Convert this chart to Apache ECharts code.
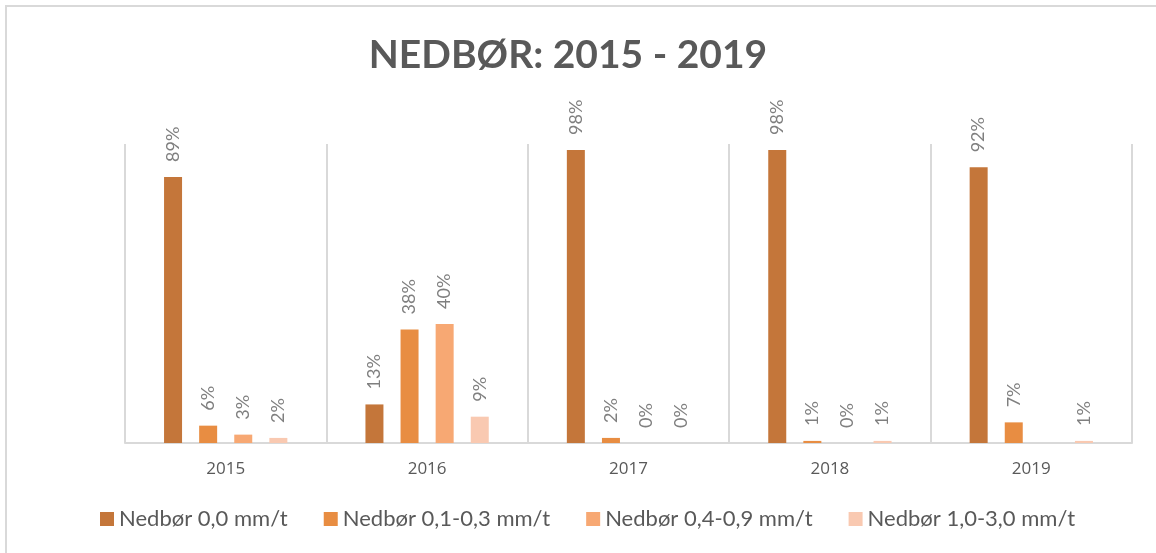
<!DOCTYPE html>
<html>
<head>
<meta charset="utf-8">
<script src="https://cdn.jsdelivr.net/npm/echarts@6/dist/echarts.min.js"></script>
<style>
  html, body { margin: 0; padding: 0; background: #fff; }
  #frame {
    position: absolute; left: 5px; top: 5px; width: 1200px; height: 600px;
    border: 2px solid #d9d9d9; box-sizing: border-box;
  }
  #chart { position: absolute; left: 0; top: 0; width: 1156px; height: 553px; }
</style>
</head>
<body>
<div id="frame"></div>
<div id="chart"></div>
<script>
const years = ["2015", "2016", "2017", "2018", "2019"];
const seriesNames = [
  "Nedbør 0,0 mm/t",
  "Nedbør 0,1-0,3 mm/t",
  "Nedbør 0,4-0,9 mm/t",
  "Nedbør 1,0-3,0 mm/t",
];
// andel per år (0-1)
const nedbor00 = [0.89, 0.129, 0.98, 0.98, 0.922];
const nedbor0103 = [0.058, 0.38, 0.017, 0.007, 0.069];
const nedbor0409 = [0.028, 0.398, 0, 0, null];
const nedbor1030 = [0.017, 0.088, 0, 0.007, 0.007];
const colors = ["#C4763A", "#E88D42", "#F7A873", "#F9C9B1"];

const fontFamily = "Lato, 'Open Sans', sans-serif";
const chart = echarts.init(document.getElementById("chart"));

const makeSeries = (name, data, color) => ({
  name: name,
  type: "bar",
  data: data,
  barWidth: 18,
  barGap: "95%",
  itemStyle: { color: color },
  label: {
    show: true,
    position: "top",
    distance: 15,
    rotate: 90,
    align: "left",
    verticalAlign: "middle",
    color: "#7f7f7f",
    fontSize: 18,
    fontFamily: fontFamily,
    formatter: (p) => Math.round(p.value * 100) + "%",
  },
});

let option = {
  backgroundColor: "transparent",
  animation: false,
  title: {
    text: "NEDBØR: 2015 - 2019",
    left: 563,
    top: 31,
    textAlign: "center",
    textStyle: {
      color: "#595959",
      fontSize: 39,
      fontWeight: "bold",
      fontFamily: fontFamily,
    },
  },
  legend: {
    left: 100,
    top: 508,
    padding: 0,
    itemWidth: 14,
    itemHeight: 14,
    itemGap: 36,
    icon: "rect",
    textStyle: { color: "#595959", fontSize: 22, fontFamily: fontFamily },
    data: seriesNames,
  },
  grid: { left: 125, right: 24, top: 144, bottom: 110 },
  xAxis: {
    type: "category",
    data: years,
    axisLine: { lineStyle: { color: "#d9d9d9", width: 2 } },
    axisTick: { show: false },
    splitLine: { show: true, lineStyle: { color: "#d9d9d9", width: 2 } },
    axisLabel: {
      color: "#595959",
      fontSize: 17,
      margin: 18,
      fontFamily: "'Open Sans', sans-serif",
    },
  },
  yAxis: {
    type: "value",
    min: 0,
    max: 1,
    show: false,
    splitLine: { show: false },
  },
  series: [
    makeSeries(seriesNames[0], nedbor00, colors[0]),
    makeSeries(seriesNames[1], nedbor0103, colors[1]),
    makeSeries(seriesNames[2], nedbor0409, colors[2]),
    makeSeries(seriesNames[3], nedbor1030, colors[3]),
  ],
};
chart.setOption(option);
</script>
</body>
</html>
